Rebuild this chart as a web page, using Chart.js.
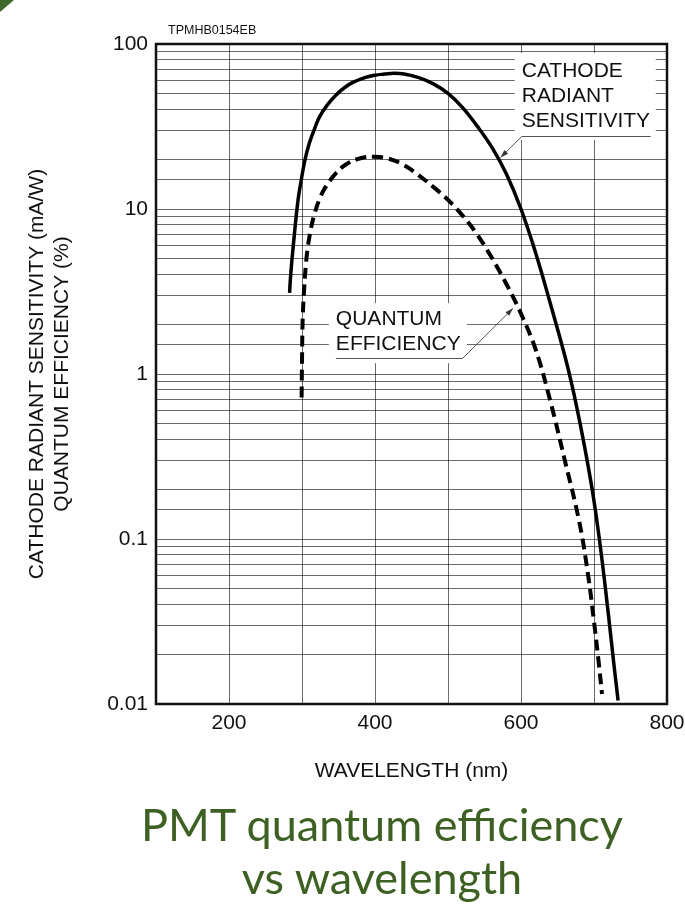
<!DOCTYPE html>
<html>
<head>
<meta charset="utf-8">
<script src="https://cdn.jsdelivr.net/npm/chart.js@4.4.1/dist/chart.umd.min.js"></script>
<style>
html,body{margin:0;padding:0;background:#fff;}
#wrap{position:relative;width:685px;height:907px;overflow:hidden;background:#fff;}
#c{position:absolute;left:0;top:0;}
#caption{position:absolute;left:0;top:798px;width:764px;text-align:center;font-family:Lato,"Open Sans",sans-serif;font-size:45px;line-height:53px;color:#3d6023;}
#corner{position:absolute;left:0;top:0;width:14px;height:12px;background:#3f6a2a;clip-path:polygon(0 0,100% 0,0 100%);}
</style>
</head>
<body>
<div id="wrap">
<canvas id="c" width="685" height="907"></canvas>
<div id="corner"></div>
<div id="caption">PMT quantum efficiency<br>vs wavelength</div>
</div>
<script>
// ---- data ----
const cathodeWavelength = [283, 284, 286, 289, 292, 295, 299, 304, 310, 317, 324, 335, 346, 358, 369, 385, 400, 413, 426, 440, 460, 480, 500, 520, 540, 560, 580, 600, 620, 640, 660, 670, 680, 690, 700, 710, 720, 727, 733];
const cathodeSensitivity = [3.1, 3.7, 4.8, 6.6, 9.0, 11.7, 15, 19.8, 25, 30.5, 36.2, 42.9, 48.8, 54.3, 58.3, 62.4, 64.7, 65.7, 66.5, 65.8, 62.5, 57.3, 50.2, 41.2, 31.8, 23.7, 16.3, 10.0, 5.43, 2.69, 1.29, 0.85, 0.525, 0.309, 0.17, 0.081, 0.034, 0.0178, 0.0105];
const qeWavelength = [299.5, 300, 301, 303, 305.5, 308, 312, 317, 324, 331, 338, 346, 360, 380, 400, 420, 440, 460, 480, 500, 520, 540, 560, 580, 600, 620, 640, 660, 680, 692, 700, 706, 711];
const qeEfficiency = [0.72, 1.2, 2.2, 3.3, 4.7, 5.9, 7.5, 9.3, 11.5, 13.3, 14.8, 16.4, 18.6, 20.3, 20.7, 20.1, 18.4, 16.0, 13.6, 11.35, 9.12, 7.0, 5.07, 3.51, 2.32, 1.41, 0.69, 0.30, 0.126, 0.060, 0.0316, 0.0186, 0.0115];
const xTickValues = [200, 400, 600, 800];
const xTickLabels = ['200', '400', '600', '800'];
const yTickLabels = ['0.01', '0.1', '1', '10', '100'];
const cathodeLabelLines = ['CATHODE', 'RADIANT', 'SENSITIVITY'];
const qeLabelLines = ['QUANTUM', 'EFFICIENCY'];
const codeLabel = 'TPMHB0154EB';
const xTitle = 'WAVELENGTH (nm)';
const yTitleLines = ['CATHODE RADIANT SENSITIVITY (mA/W)', 'QUANTUM EFFICIENCY (%)'];

// ---- callout placement (data-space anchors + pixel offsets) ----
const cathodeCallout = {lines: cathodeLabelLines, textAt: [601, 63.1], box: [7, 24, 134, 63], leaderDy: 8.7, leaderLen: 129, fromRight: false, tip: [572, 20.5]};
const qeCallout = {lines: qeLabelLines, textAt: [346.4, 1.98], box: [7, 22, 131, 38], leaderDy: 8.3, leaderLen: 126.6, fromRight: true, tip: [589, 2.5]};

const FONT = '"Liberation Sans", Arial, Helvetica, sans-serif';
const INK = '#111';

function drawCallout(ctx, xs, ys, c) {
  const tx = xs.getPixelForValue(c.textAt[0]);
  const ty = ys.getPixelForValue(c.textAt[1]);
  const lh = 25;
  ctx.fillStyle = '#fff';
  ctx.fillRect(tx - c.box[0], ty - c.box[1], c.box[0] + c.box[2], c.box[1] + c.box[3]);
  ctx.fillStyle = INK;
  ctx.font = '21px ' + FONT;
  ctx.textAlign = 'left';
  ctx.textBaseline = 'alphabetic';
  c.lines.forEach((t, i) => ctx.fillText(t, tx, ty + i * lh));
  const ly = Math.round(ty + (c.lines.length - 1) * lh + c.leaderDy) + 0.5;
  ctx.strokeStyle = '#555';
  ctx.lineWidth = 1;
  ctx.beginPath();
  ctx.moveTo(tx, ly);
  ctx.lineTo(tx + c.leaderLen, ly);
  ctx.stroke();
  const sx = c.fromRight ? tx + c.leaderLen : tx;
  const px = xs.getPixelForValue(c.tip[0]);
  const py = ys.getPixelForValue(c.tip[1]);
  ctx.beginPath();
  ctx.moveTo(sx, ly);
  ctx.lineTo(px, py);
  ctx.stroke();
  const a = Math.atan2(py - ly, px - sx);
  const L = 8, W = 2.6;
  const bx = px - L * Math.cos(a), by = py - L * Math.sin(a);
  ctx.fillStyle = '#333';
  ctx.beginPath();
  ctx.moveTo(px, py);
  ctx.lineTo(bx - W * Math.sin(a), by + W * Math.cos(a));
  ctx.lineTo(bx + W * Math.sin(a), by - W * Math.cos(a));
  ctx.closePath();
  ctx.fill();
}

const annotPlugin = {
  id: 'annot',
  beforeDatasetsDraw(chart) {
    const {ctx, chartArea: a} = chart;
    const xs = chart.scales.x, ys = chart.scales.y;
    ctx.save();
    ctx.font = '12.5px ' + FONT;
    ctx.fillStyle = INK;
    ctx.textAlign = 'left';
    ctx.textBaseline = 'alphabetic';
    ctx.fillText(codeLabel, a.left + 12, a.top - 10);
    drawCallout(ctx, xs, ys, cathodeCallout);
    drawCallout(ctx, xs, ys, qeCallout);
    ctx.restore();
  },
  afterDraw(chart) {
    const {ctx, chartArea: a} = chart;
    ctx.save();
    ctx.strokeStyle = INK;
    ctx.lineWidth = 2.5;
    ctx.strokeRect(a.left, a.top, a.right - a.left, a.bottom - a.top);
    ctx.restore();
  }
};

const gridColor = 'rgba(0,0,0,0.58)';

new Chart(document.getElementById('c').getContext('2d'), {
  type: 'line',
  data: {
    datasets: [
      {
        label: 'CATHODE RADIANT SENSITIVITY',
        data: cathodeWavelength.map((w, i) => ({x: w, y: cathodeSensitivity[i]})),
        borderColor: '#000',
        borderWidth: 3.5,
        pointRadius: 0,
        fill: false,
        tension: 0.4
      },
      {
        label: 'QUANTUM EFFICIENCY',
        data: qeWavelength.map((w, i) => ({x: w, y: qeEfficiency[i]})),
        borderColor: '#000',
        borderWidth: 4,
        borderDash: [11, 6],
        pointRadius: 0,
        fill: false,
        tension: 0.4
      }
    ]
  },
  options: {
    responsive: false,
    animation: false,
    devicePixelRatio: 1,
    layout: {padding: {top: 44, left: 0, right: 18, bottom: 123}},
    plugins: {legend: {display: false}, tooltip: {enabled: false}, title: {display: false}},
    scales: {
      x: {
        type: 'linear',
        min: 100,
        max: 800,
        ticks: {
          stepSize: 100,
          autoSkip: false,
          maxRotation: 0,
          padding: 7,
          color: INK,
          font: {family: FONT, size: 21},
          callback: (v) => { const i = xTickValues.indexOf(v); return i >= 0 ? xTickLabels[i] : ''; }
        },
        grid: {color: gridColor, lineWidth: 1, drawTicks: false},
        border: {display: false},
        title: {display: true, text: xTitle, color: INK, font: {family: FONT, size: 21, lineHeight: 1.19}, padding: {top: 0, bottom: 0}},
        afterFit: (s) => { s.height = 80; s.paddingLeft = 0; s.paddingRight = 0; }
      },
      y: {
        type: 'logarithmic',
        min: 0.01,
        max: 100,
        ticks: {
          autoSkip: false,
          padding: 8,
          color: INK,
          font: {family: FONT, size: 21},
          callback: (v) => {
            const l = Math.log10(v);
            const r = Math.round(l);
            return Math.abs(l - r) < 1e-6 ? (yTickLabels[r + 2] || '') : '';
          }
        },
        grid: {color: gridColor, lineWidth: 1, drawTicks: false},
        border: {display: false},
        title: {display: true, text: yTitleLines, color: INK, font: {family: FONT, size: 21, lineHeight: 1.19}, padding: {top: 24.5, bottom: 0}},
        afterFit: (s) => { s.width = 156; }
      }
    }
  },
  plugins: [annotPlugin]
});
</script>
</body>
</html>
